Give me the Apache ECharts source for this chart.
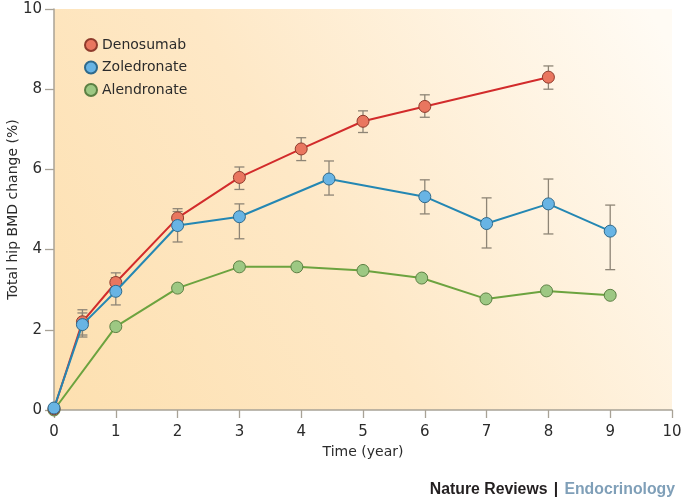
<!DOCTYPE html>
<html>
<head>
<meta charset="utf-8">
<script src="https://cdn.jsdelivr.net/npm/echarts@6/dist/echarts.min.js"></script>
<style>html,body{margin:0;padding:0;background:#fff;}#c{width:685px;height:504px;}</style>
</head>
<body>
<div id="c"></div>
<script>
// ---- data ----
const seriesNames = ['Denosumab', 'Zoledronate', 'Alendronate'];
const xTicks = [0, 1, 2, 3, 4, 5, 6, 7, 8, 9, 10];
const yTicks = [0, 2, 4, 6, 8, 10];

const denoX    = [0, 0.46, 1, 2, 3, 4, 5, 6, 8];
const denoY    = [0.03, 2.2, 3.18, 4.79, 5.8, 6.51, 7.2, 7.57, 8.3];
const denoLow  = [null, 1.87, 2.95, 4.55, 5.5, 6.22, 6.92, 7.3, 8.0];
const denoHigh = [null, 2.5, 3.42, 5.02, 6.06, 6.79, 7.46, 7.86, 8.58];

const zolX    = [0, 0.46, 1, 2, 3, 4.45, 6, 7, 8, 9];
const zolY    = [0.05, 2.13, 2.96, 4.6, 4.82, 5.76, 5.32, 4.65, 5.14, 4.46];
const zolLow  = [null, 1.82, 2.62, 4.19, 4.27, 5.36, 4.89, 4.04, 4.39, 3.5];
const zolHigh = [null, 2.42, 3.3, 4.95, 5.14, 6.21, 5.74, 5.29, 5.76, 5.11];

const alenX = [0, 1, 2, 3, 3.93, 5, 5.95, 6.99, 7.97, 9];
const alenY = [0, 2.08, 3.04, 3.57, 3.57, 3.48, 3.29, 2.77, 2.97, 2.86];

// ---- styles ----
const lineColors = ['#d22b2b', '#2487b3', '#6ca33f'];
const fillColors = ['#e9765f', '#68b4e4', '#9dc883'];
const edgeColors = ['#8f3b2c', '#2f6a8c', '#5c8043'];
const errColor = '#8e8576';

function pairs(xs, ys) { return xs.map((x, i) => [x, ys[i]]); }
function errData(xs, lo, hi) {
  const out = [];
  xs.forEach((x, i) => { if (lo[i] != null) out.push([x, lo[i], hi[i]]); });
  return out;
}
function errRender(params, api) {
  const x = api.value(0);
  const p1 = api.coord([x, api.value(1)]);
  const p2 = api.coord([x, api.value(2)]);
  const w = 5;
  const st = { stroke: errColor, lineWidth: 1.3 };
  return {
    type: 'group',
    children: [
      { type: 'line', shape: { x1: p1[0], y1: p1[1], x2: p2[0], y2: p2[1] }, style: st },
      { type: 'line', shape: { x1: p1[0] - w, y1: p1[1], x2: p1[0] + w, y2: p1[1] }, style: st },
      { type: 'line', shape: { x1: p2[0] - w, y1: p2[1], x2: p2[0] + w, y2: p2[1] }, style: st }
    ]
  };
}
function lineSeries(i, data, z) {
  return {
    name: seriesNames[i], type: 'line', data: data, z: z,
    symbol: 'circle', symbolSize: 12, showSymbol: true,
    lineStyle: { color: lineColors[i], width: 2 },
    itemStyle: { color: fillColors[i], borderColor: edgeColors[i], borderWidth: 1 },
    emphasis: { disabled: true }, animation: false
  };
}
function errSeries(data, z) {
  return { type: 'custom', renderItem: errRender, data: data, z: z, silent: true, animation: false,
           encode: { x: 0, y: [1, 2] } };
}

const font = '"DejaVu Sans", Verdana, sans-serif';
const fontB = '"Liberation Sans", Arial, sans-serif';
const chart = echarts.init(document.getElementById('c'));
chart.setOption({
  animation: false,
  textStyle: { fontFamily: font },
  grid: {
    left: 54, right: 13, top: 9, bottom: 94, show: true, borderWidth: 0,
    outerBoundsMode: 'none', containLabel: false,
    backgroundColor: new echarts.graphic.LinearGradient(0, 1, 1, 0.1, [
      { offset: 0, color: '#fde0b0' },
      { offset: 0.45, color: '#fee8c6' },
      { offset: 1, color: '#fffbf4' }
    ])
  },
  legend: {
    orient: 'vertical', left: 79, top: 33, itemGap: 8.5, itemWidth: 12, itemHeight: 12,
    icon: 'circle', data: seriesNames,
    textStyle: { fontSize: 14, color: '#2b2b2b', fontFamily: font }
  },
  title: {
    text: '{a|Nature Reviews} {s||} {b|Endocrinology}',
    right: 5, bottom: 0,
    textStyle: {
      rich: {
        a: { fontSize: 15.8, fontWeight: 'bold', color: '#231f20', fontFamily: fontB },
        s: { fontSize: 15.8, color: '#231f20', fontFamily: fontB },
        b: { fontSize: 15.8, fontWeight: 'bold', color: '#7f9fb8', fontFamily: fontB }
      }
    }
  },
  xAxis: {
    type: 'value', min: xTicks[0], max: xTicks[xTicks.length - 1], interval: 1,
    name: 'Time (year)', nameLocation: 'middle', nameGap: 35, nameMoveOverlap: false,
    nameTextStyle: { fontSize: 14, color: '#2b2b2b' },
    axisLine: { lineStyle: { color: '#a8a296', width: 1.5 } },
    axisTick: { show: true, length: 8, lineStyle: { color: '#a8a296', width: 1.3 } },
    axisLabel: { fontSize: 15, color: '#2b2b2b', margin: 15 },
    splitLine: { show: false }
  },
  yAxis: {
    type: 'value', min: yTicks[0], max: yTicks[yTicks.length - 1], interval: 2,
    name: 'Total hip BMD change (%)', nameLocation: 'middle', nameGap: 34, nameRotate: 90,
    nameMoveOverlap: false,
    nameTextStyle: { fontSize: 14, color: '#2b2b2b' },
    axisLine: { show: true, lineStyle: { color: '#a8a296', width: 1.5 } },
    axisTick: { show: true, length: 9, lineStyle: { color: '#a8a296', width: 1.3 } },
    axisLabel: { fontSize: 15, color: '#2b2b2b', margin: 12 },
    splitLine: { show: false }
  },
  series: [
    errSeries(errData(denoX, denoLow, denoHigh), 1),
    errSeries(errData(zolX, zolLow, zolHigh), 1),
    lineSeries(0, pairs(denoX, denoY), 3),
    lineSeries(1, pairs(zolX, zolY), 4),
    lineSeries(2, pairs(alenX, alenY), 2)
  ]
});
</script>
</body>
</html>
